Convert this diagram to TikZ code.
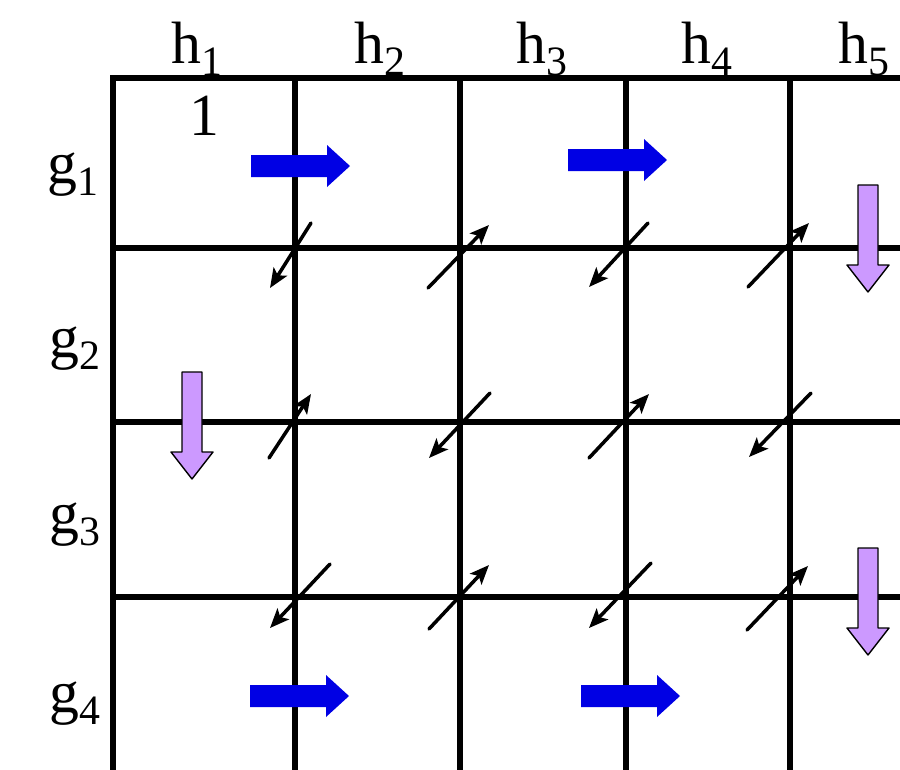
\documentclass[tikz,border=0pt]{standalone}
\usepackage{fontspec}
\setmainfont{Liberation Serif}
\usetikzlibrary{arrows.meta}
\definecolor{fatblue}{RGB}{0,0,228}
\definecolor{lilac}{RGB}{204,153,255}

\begin{document}
\begin{tikzpicture}[x=0.02cm,y=-0.02cm,line cap=round,line join=round,
  every node/.style={inner sep=0pt,anchor=base,font=\fontsize{34}{40}\selectfont},
  grid/.style={line width=3pt,line cap=rect},
  spin/.style={-{Stealth[length=11pt,width=9pt,inset=2.5pt]},line width=2pt},
  rightarr/.style={fill=fatblue,draw=none},
  downarr/.style={fill=lilac,draw=black,line width=0.8pt}]
  \useasboundingbox (0,0) rectangle (900,769);
  % grid
  \foreach \x in {113,295,460,626,790}
    \draw[grid] (\x,78) -- (\x,769);
  \foreach \y in {78,248,422,597}
    \draw[grid] (113,\y) -- (900,\y);
  % labels
  \node (h1) at (197,63) {h\textsubscript{1}};
  \node (h2) at (380,63) {h\textsubscript{2}};
  \node (h3) at (542,63) {h\textsubscript{3}};
  \node (h4) at (707,63) {h\textsubscript{4}};
  \node (h5) at (864,63) {h\textsubscript{5}};
  \node (g1) at (73,183) {g\textsubscript{1}};
  \node (g2) at (75,357) {g\textsubscript{2}};
  \node (g3) at (75,533) {g\textsubscript{3}};
  \node (g4) at (75,712) {g\textsubscript{4}};
  \node (one) at (204,135) {1};
  % blue arrows
  \foreach \px/\py in {251/166,568/160,250/696,581/696}
    \fill[rightarr,shift={(\px,\py)}] (0,-11) -- (76,-11) -- (76,-21) -- (99,0) -- (76,21) -- (76,11) -- (0,11) -- cycle;
  % lilac arrows
  \foreach \px/\py in {192/372,868/185,868/548}
    \draw[downarr,shift={(\px,\py)}] (-10,0) -- (-10,80) -- (-21,80) -- (0,107) -- (21,80) -- (10,80) -- (10,0) -- cycle;
  % small arrows
  \draw[spin] (311,223) -- (270,288);
  \draw[spin] (428,288) -- (489,225);
  \draw[spin] (648,223) -- (589,287);
  \draw[spin] (748,287) -- (809,223);
  \draw[spin] (269,458) -- (311,394);
  \draw[spin] (490,393) -- (429,458);
  \draw[spin] (589,458) -- (649,394);
  \draw[spin] (811,393) -- (749,457);
  \draw[spin] (330,564) -- (270,628);
  \draw[spin] (429,629) -- (489,565);
  \draw[spin] (651,563) -- (589,628);
  \draw[spin] (747,630) -- (808,566);
\end{tikzpicture}
\end{document}
